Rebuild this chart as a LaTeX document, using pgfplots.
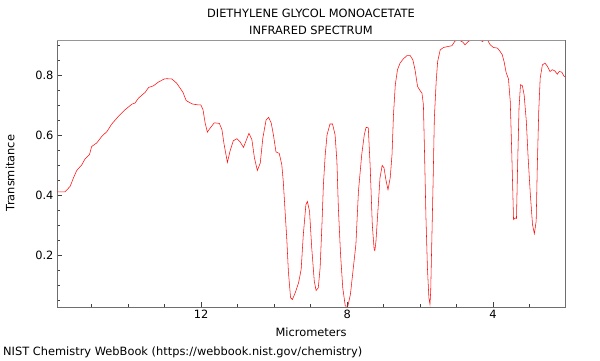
\documentclass[border=0pt]{standalone}
\usepackage{pgfplots}
\pgfplotsset{compat=1.18}
\usepackage{fontspec}
\setmainfont{DejaVu Sans}
\definecolor{frame}{RGB}{110,110,110}
\definecolor{topframe}{RGB}{150,150,150}
\begin{document}
\begin{tikzpicture}[x=1bp,y=1bp]
\path[use as bounding box] (0,0) rectangle (600,360);
\begin{axis}[
  at={(57bp,53bp)}, anchor=south west,
  scale only axis, width=508bp, height=267bp,
  x dir=reverse,
  xmin=2.03, xmax=15.95, ymin=0.027, ymax=0.917,
  xtick={4,8,12}, minor xtick={3,5,6,7,9,10,11,13,14,15},
  ytick={0.2,0.4,0.6,0.8},
  minor ytick={0.05,0.1,0.15,0.25,0.3,0.35,0.45,0.5,0.55,0.65,0.7,0.75,0.85,0.9},
  tick pos=left, tick align=inside,
  major tick length=5bp, minor tick length=3bp,
  tick style={black!75, line width=0.6pt},
  axis line style={frame, line width=0.9pt},
  /pgf/number format/assume math mode=true,
  /pgf/number format/fixed, /pgf/number format/precision=1,
  yticklabel style={/pgf/number format/fixed zerofill},
  tick label style={font=\fontsize{11.4bp}{13bp}\selectfont},
  clip=true,
]
\addplot[red!95!white, line width=0.55pt] coordinates {
(15.95,0.411)(15.73,0.411)(15.59,0.429)(15.50,0.457)(15.41,0.482)(15.27,0.501)
(15.18,0.521)(15.06,0.535)(15.00,0.562)(14.86,0.574)(14.72,0.596)(14.58,0.612)
(14.45,0.637)(14.27,0.662)(14.08,0.685)(13.90,0.703)(13.81,0.707)(13.72,0.723)
(13.53,0.743)(13.44,0.759)(13.31,0.764)(13.17,0.777)(13.01,0.787)(12.94,0.788)
(12.80,0.787)(12.67,0.773)(12.50,0.743)(12.41,0.715)(12.25,0.704)(12.10,0.701)
(12.01,0.701)(11.95,0.685)(11.89,0.640)(11.83,0.610)(11.75,0.624)(11.64,0.641)
(11.50,0.639)(11.43,0.618)(11.37,0.568)(11.28,0.509)(11.21,0.546)(11.12,0.581)
(11.02,0.588)(10.93,0.577)(10.84,0.559)(10.77,0.581)(10.69,0.606)(10.61,0.585)
(10.54,0.524)(10.46,0.482)(10.38,0.507)(10.31,0.590)(10.22,0.651)(10.15,0.659)
(10.08,0.640)(10.02,0.601)(9.95,0.544)(9.86,0.539)(9.79,0.501)(9.75,0.446)
(9.70,0.346)(9.65,0.246)(9.61,0.146)(9.55,0.058)(9.50,0.052)(9.42,0.075)
(9.33,0.108)(9.26,0.152)(9.20,0.269)(9.13,0.368)(9.09,0.379)(9.03,0.346)
(8.97,0.224)(8.90,0.113)(8.85,0.082)(8.79,0.091)(8.74,0.158)(8.69,0.302)
(8.65,0.435)(8.60,0.535)(8.55,0.601)(8.47,0.637)(8.40,0.637)(8.33,0.601)
(8.28,0.512)(8.24,0.357)(8.18,0.202)(8.12,0.091)(8.05,0.030)(7.98,0.030)
(7.91,0.069)(7.83,0.158)(7.76,0.235)(7.69,0.413)(7.60,0.535)(7.53,0.601)
(7.48,0.626)(7.42,0.624)(7.37,0.500)(7.31,0.300)(7.26,0.219)(7.24,0.215)
(7.21,0.246)(7.14,0.379)(7.10,0.457)(7.04,0.499)(6.99,0.491)(6.93,0.446)
(6.88,0.418)(6.82,0.457)(6.77,0.535)(6.73,0.668)(6.68,0.768)(6.62,0.818)
(6.55,0.840)(6.46,0.854)(6.36,0.865)(6.27,0.865)(6.20,0.851)(6.14,0.818)
(6.07,0.762)(6.00,0.748)(5.95,0.740)(5.91,0.701)(5.88,0.546)(5.84,0.324)
(5.80,0.158)(5.76,0.058)(5.73,0.036)(5.71,0.080)(5.68,0.246)(5.64,0.468)
(5.61,0.657)(5.56,0.779)(5.52,0.845)(5.45,0.884)(5.36,0.892)(5.25,0.895)
(5.13,0.898)(5.04,0.914)(4.92,0.916)(4.83,0.910)(4.77,0.901)(4.70,0.910)
(4.63,0.916)(4.58,0.917)(4.36,0.917)(4.29,0.912)(4.24,0.917)(4.15,0.916)
(4.08,0.901)(3.99,0.892)(3.88,0.890)(3.81,0.879)(3.75,0.868)(3.70,0.845)
(3.64,0.807)(3.58,0.788)(3.53,0.712)(3.49,0.546)(3.44,0.318)(3.40,0.324)
(3.36,0.322)(3.33,0.491)(3.29,0.690)(3.25,0.768)(3.20,0.765)(3.15,0.734)
(3.09,0.646)(3.04,0.524)(2.98,0.402)(2.92,0.302)(2.87,0.271)(2.82,0.313)
(2.79,0.491)(2.75,0.679)(2.71,0.790)(2.65,0.834)(2.58,0.840)(2.51,0.829)
(2.44,0.812)(2.38,0.818)(2.31,0.814)(2.24,0.803)(2.19,0.812)(2.12,0.810)
(2.05,0.795)(2.03,0.795)
};
\draw[topframe, line width=2pt] (rel axis cs:0,1) -- (rel axis cs:1,1);
\end{axis}
\begin{scope}[every node/.style={font=\fontsize{11.4bp}{13bp}\selectfont, inner sep=0pt}]
\node at (311,347) {DIETHYLENE GLYCOL MONOACETATE};
\node at (311,330) {INFRARED SPECTRUM};
\node at (311,28) {Micrometers};
\node[rotate=90] at (10,187) {Transmitance};
\node[anchor=west] at (3,8) {NIST Chemistry WebBook (https://webbook.nist.gov/chemistry)};
\end{scope}
\end{tikzpicture}
\end{document}
